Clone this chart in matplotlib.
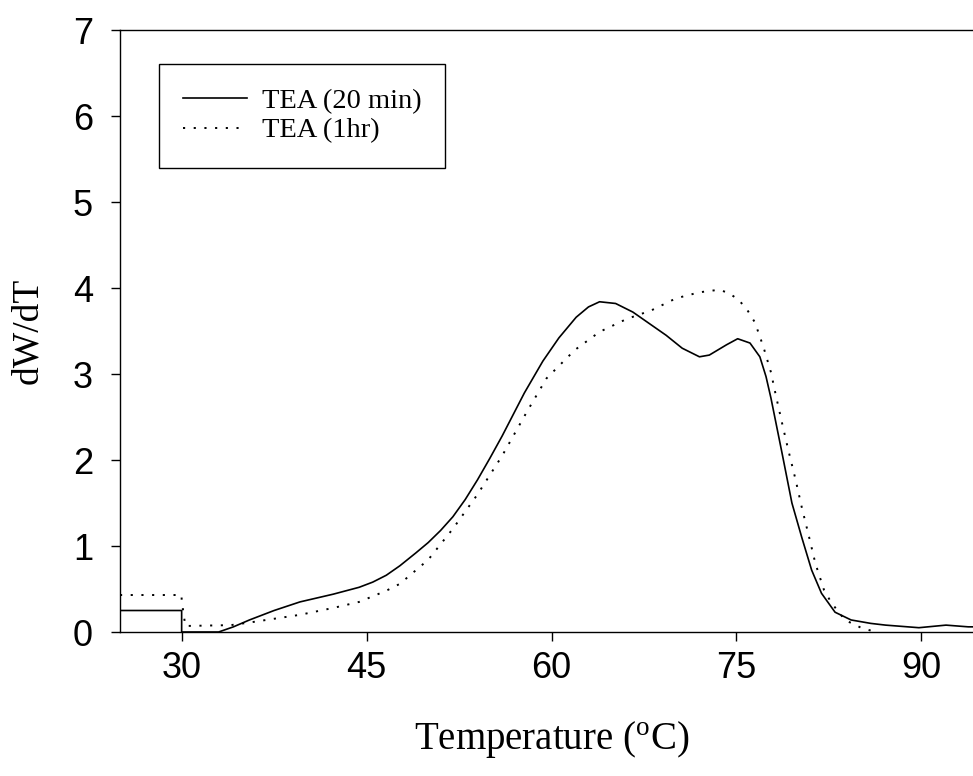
import matplotlib
matplotlib.use("Agg")
import matplotlib.pyplot as plt

# TEA (20 min)
temp_20 = [25, 25, 30, 30, 33, 34.2, 35.5, 37.5, 39.6, 42.3, 44.4, 45.5, 46.6,
           47.7, 49, 50, 51, 52, 53, 54, 55, 56, 57.8, 59.3, 60.6, 62.0, 63.0,
           63.9, 65.2, 66.6, 67.9, 69.3, 70.6, 72.0, 72.8, 74.2, 75.1, 76.1,
           76.9, 77.4, 77.8, 78.7, 79.5, 80.3, 81.1, 81.9, 83, 84.3, 85.9, 87.1,
           89.8, 92, 93.8, 95]
dwdt_20 = [0, 0.25, 0.25, 0, 0, 0.06, 0.14, 0.25, 0.35, 0.44, 0.52, 0.58, 0.66,
           0.77, 0.92, 1.04, 1.18, 1.34, 1.54, 1.77, 2.02, 2.28, 2.78, 3.15, 3.42,
           3.66, 3.78, 3.84, 3.82, 3.72, 3.59, 3.45, 3.3, 3.2, 3.22, 3.34, 3.41,
           3.36, 3.2, 2.97, 2.72, 2.08, 1.5, 1.1, 0.72, 0.45, 0.23, 0.14, 0.1,
           0.08, 0.05, 0.08, 0.06, 0.06]

# TEA (1hr)
temp_1h = [25, 30, 30, 30.3, 34, 35.5, 39.6, 42.3, 44.4, 46.6, 47.7, 50, 52,
           54, 56, 58, 59.6, 61.9, 63.9, 66.1, 68.1, 70.1, 72.0, 73.6, 74.4,
           75.2, 75.9, 76.5, 77.2, 77.8, 78.2, 78.7, 79.2, 79.8, 80.3, 80.9,
           81.4, 82.1, 82.7, 83.8, 85.1, 86.3]
dwdt_1h = [0.43, 0.43, 0.37, 0.07, 0.08, 0.11, 0.2, 0.28, 0.35, 0.48, 0.56, 0.84,
           1.2, 1.6, 2.05, 2.56, 2.95, 3.28, 3.49, 3.64, 3.74, 3.88, 3.95, 3.98,
           3.94, 3.86, 3.74, 3.6, 3.31, 3.02, 2.75, 2.43, 2.12, 1.77, 1.45, 1.1,
           0.8, 0.49, 0.34, 0.14, 0.05, 0.0]

x_ticks = [30, 45, 60, 75, 90]
y_ticks = [0, 1, 2, 3, 4, 5, 6, 7]

W, H = 973, 776
fig = plt.figure(figsize=(W / 100, H / 100), dpi=100)
ax = fig.add_axes([120 / W, (H - 632) / H, (983 - 120) / W, (632 - 30) / H])

ax.plot(temp_20, dwdt_20, color="black", lw=1.2, label="TEA (20 min)")
ax.plot(temp_1h, dwdt_1h, color="black", lw=1.4, linestyle=(0, (1.1, 4.4)),
        label="TEA (1hr)")

ax.set_xlim(25, 95)
ax.set_ylim(0, 7)
ax.set_xticks(x_ticks)
ax.set_yticks(y_ticks)
ax.spines["right"].set_visible(False)
for s in ["left", "bottom", "top"]:
    ax.spines[s].set_linewidth(1.0)
ax.tick_params(direction="out", length=6.5, width=1.0, labelsize=26)
ax.tick_params(axis="y", pad=13)
ax.tick_params(axis="x", pad=7)
for lab in ax.get_xticklabels() + ax.get_yticklabels():
    lab.set_fontfamily("Liberation Sans")

ax.set_xlabel("Temperature ($\\mathregular{^o}$C)", fontfamily="Liberation Serif",
              fontsize=28, labelpad=24)
ax.set_ylabel("dW/dT", fontfamily="Liberation Serif", fontsize=27, labelpad=20)

leg = ax.legend(loc="upper left", bbox_to_anchor=(159 / W, 1 - 64 / H),
                bbox_transform=fig.transFigure, frameon=True, fancybox=False,
                edgecolor="black", framealpha=1, handlelength=2.25,
                prop={"family": "Liberation Serif", "size": 20.5},
                borderpad=0.85, labelspacing=0.12, handletextpad=0.5,
                borderaxespad=0)
leg.get_frame().set_linewidth(1.0)

fig.savefig("out.png", dpi=100)
